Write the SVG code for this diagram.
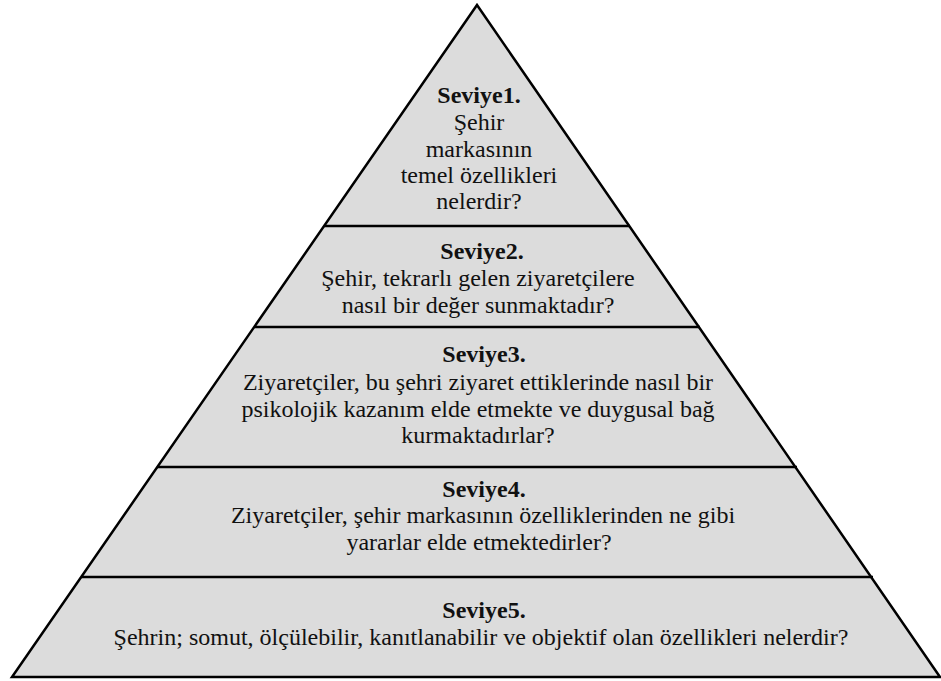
<svg xmlns="http://www.w3.org/2000/svg" width="941" height="681" viewBox="0 0 941 681">
  <style>
    .tier { fill: #dcdcdc; stroke: none; }
    .edge { fill: none; stroke: #000; stroke-width: 2.5; stroke-linejoin: miter; }
    .divider { stroke: #000; stroke-width: 2.5; }
    text { font-family: "Liberation Serif", "Times New Roman", serif; font-size: 24px; fill: #111; text-anchor: middle; }
    .head { font-weight: bold; }
  </style>
  <rect width="941" height="681" fill="#fff"/>

  <!-- pyramid body -->
  <polygon class="tier" points="477,5 12,677 940,677"/>

  <!-- tier dividers -->
  <g id="connectors">
    <line class="divider" x1="324" y1="226" x2="630" y2="226"/>
    <line class="divider" x1="254" y1="327" x2="700" y2="327"/>
    <line class="divider" x1="157" y1="467" x2="797" y2="467"/>
    <line class="divider" x1="81" y1="577" x2="873" y2="577"/>
  </g>

  <polygon class="edge" points="477,5 12,677 940,677"/>

  <g id="level1">
    <text class="head" x="479" y="103">Seviye1.</text>
    <text x="479" y="130">Şehir</text>
    <text x="479" y="157">markasının</text>
    <text x="479" y="183">temel özellikleri</text>
    <text x="479" y="209">nelerdir?</text>
  </g>

  <g id="level2">
    <text class="head" x="482" y="259">Seviye2.</text>
    <text x="478" y="286">Şehir, tekrarlı gelen ziyaretçilere</text>
    <text x="478" y="313">nasıl bir değer sunmaktadır?</text>
  </g>

  <g id="level3">
    <text class="head" x="484" y="362">Seviye3.</text>
    <text x="478" y="390">Ziyaretçiler, bu şehri ziyaret ettiklerinde nasıl bir</text>
    <text x="478" y="417">psikolojik kazanım elde etmekte ve duygusal bağ</text>
    <text x="478" y="443">kurmaktadırlar?</text>
  </g>

  <g id="level4">
    <text class="head" x="484" y="497">Seviye4.</text>
    <text x="483" y="523">Ziyaretçiler, şehir markasının özelliklerinden ne gibi</text>
    <text x="479" y="550">yararlar elde etmektedirler?</text>
  </g>

  <g id="level5">
    <text class="head" x="484" y="618">Seviye5.</text>
    <text x="481" y="645">Şehrin; somut, ölçülebilir, kanıtlanabilir ve objektif olan özellikleri nelerdir?</text>
  </g>
</svg>
